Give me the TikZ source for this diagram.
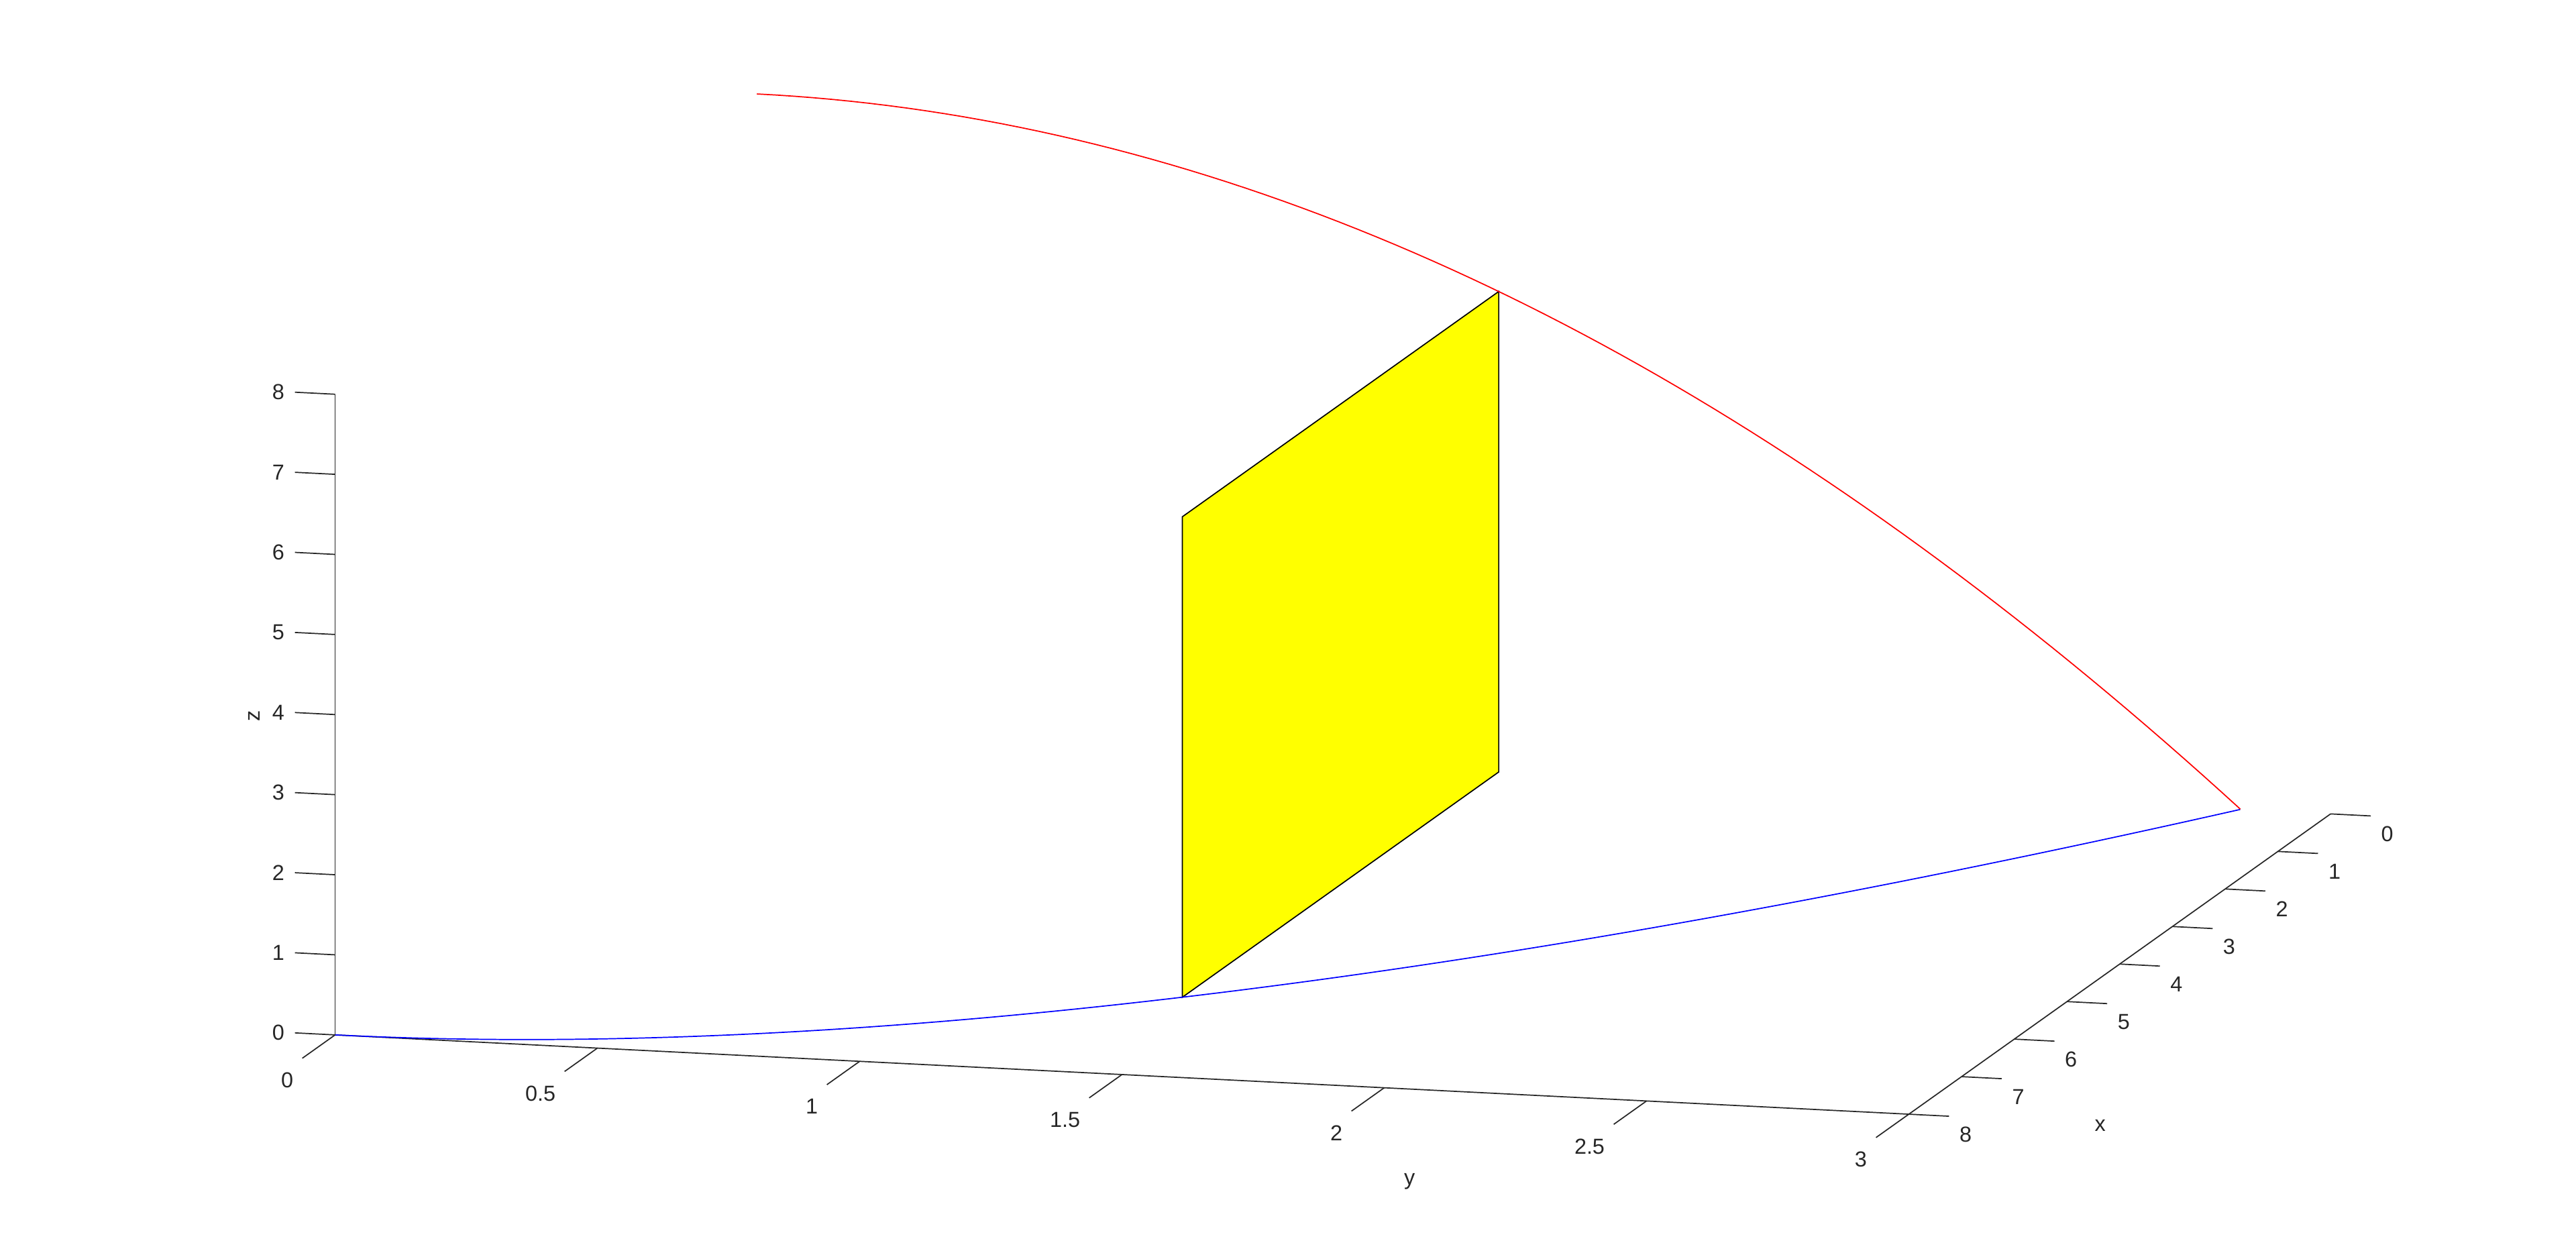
\documentclass[tikz,border=0pt]{standalone}
\usepackage{fontspec}
\setmainfont{Liberation Sans}
\usepackage{xcolor}
\usetikzlibrary{calc}
\definecolor{AxisGray}{HTML}{262626}
\definecolor{CurveRed}{HTML}{FF0000}
\definecolor{CurveBlue}{HTML}{0000FF}
\definecolor{SliceYellow}{HTML}{FFFF00}
\tikzset{
  axisline/.style={draw=AxisGray, line width=0.5pt},
  tickmark/.style={draw=AxisGray, line width=0.5pt},
  ticklabel/.style={text=AxisGray, font=\fontsize{9.4}{11}\selectfont, inner sep=3pt},
  curve/.style={line width=0.5pt},
}

\begin{document}
\begin{tikzpicture}
  \useasboundingbox (0,0) rectangle (39.2,19.069);
  \begin{scope}[shift={(11.5175cm,7.889cm)},
      x={(-0.80225cm,-0.57125cm)}, y={(7.9825cm,-0.40225cm)}, z={(0cm,1.21875cm)}]
    % axis lines
    \coordinate (zbot) at (8,0,0);
    \coordinate (ztop) at (8,0,8);
    \coordinate (ycorner) at (8,3,0);
    \coordinate (xend) at (0,3,0);
    \draw[axisline] (zbot) -- (ztop);
    \draw[axisline] (zbot) -- (ycorner);
    \draw[axisline] (ycorner) -- (xend);
    % ticks and tick labels
    \foreach \zv in {0,...,8} {
      \draw[tickmark] (8,0,\zv) -- (8,-0.0766,\zv)
        node[ticklabel, anchor=east, xshift=-1.3pt] (zlab\zv) {\zv};
    }
    \foreach \yv [count=\i] in {0,0.5,1,1.5,2,2.5,3} {
      \draw[tickmark] (8,\yv,0) -- (8.622,\yv,0)
        node[ticklabel, anchor=north east, yshift=-3pt, xshift=-0.7pt] (ylab\i) {\yv};
    }
    \foreach \xv in {0,...,8} {
      \draw[tickmark] (\xv,3,0) -- (\xv,3.0766,0)
        node[ticklabel, anchor=north west, yshift=-1.3pt, xshift=1.3pt] (xlab\xv) {\xv};
    }
    % cross-section at y = sqrt 2
    \coordinate (sq1) at (6,1.41421,0);
    \coordinate (sq2) at (6,1.41421,6);
    \coordinate (sq3) at (0,1.41421,6);
    \coordinate (sq4) at (0,1.41421,0);
    \filldraw[fill=SliceYellow, draw=black, line width=0.5pt] (sq1) -- (sq2) -- (sq3) -- (sq4) -- cycle;
    % boundary curves
    \draw[curve, CurveBlue] plot[domain=0:2.82843, samples=80, variable=\t] ({8-\t*\t},{\t},0);
    \draw[curve, CurveRed] plot[domain=0:2.82843, samples=80, variable=\t] (0,{\t},{8-\t*\t});
  \end{scope}
  % axis names
  \node[ticklabel] (xname) at (31.96,1.944) {x};
  \node[ticklabel] (yname) at (21.45,1.09) {y};
  \node[ticklabel, rotate=90] (zname) at (3.873,8.174) {z};
\end{tikzpicture}
\end{document}
